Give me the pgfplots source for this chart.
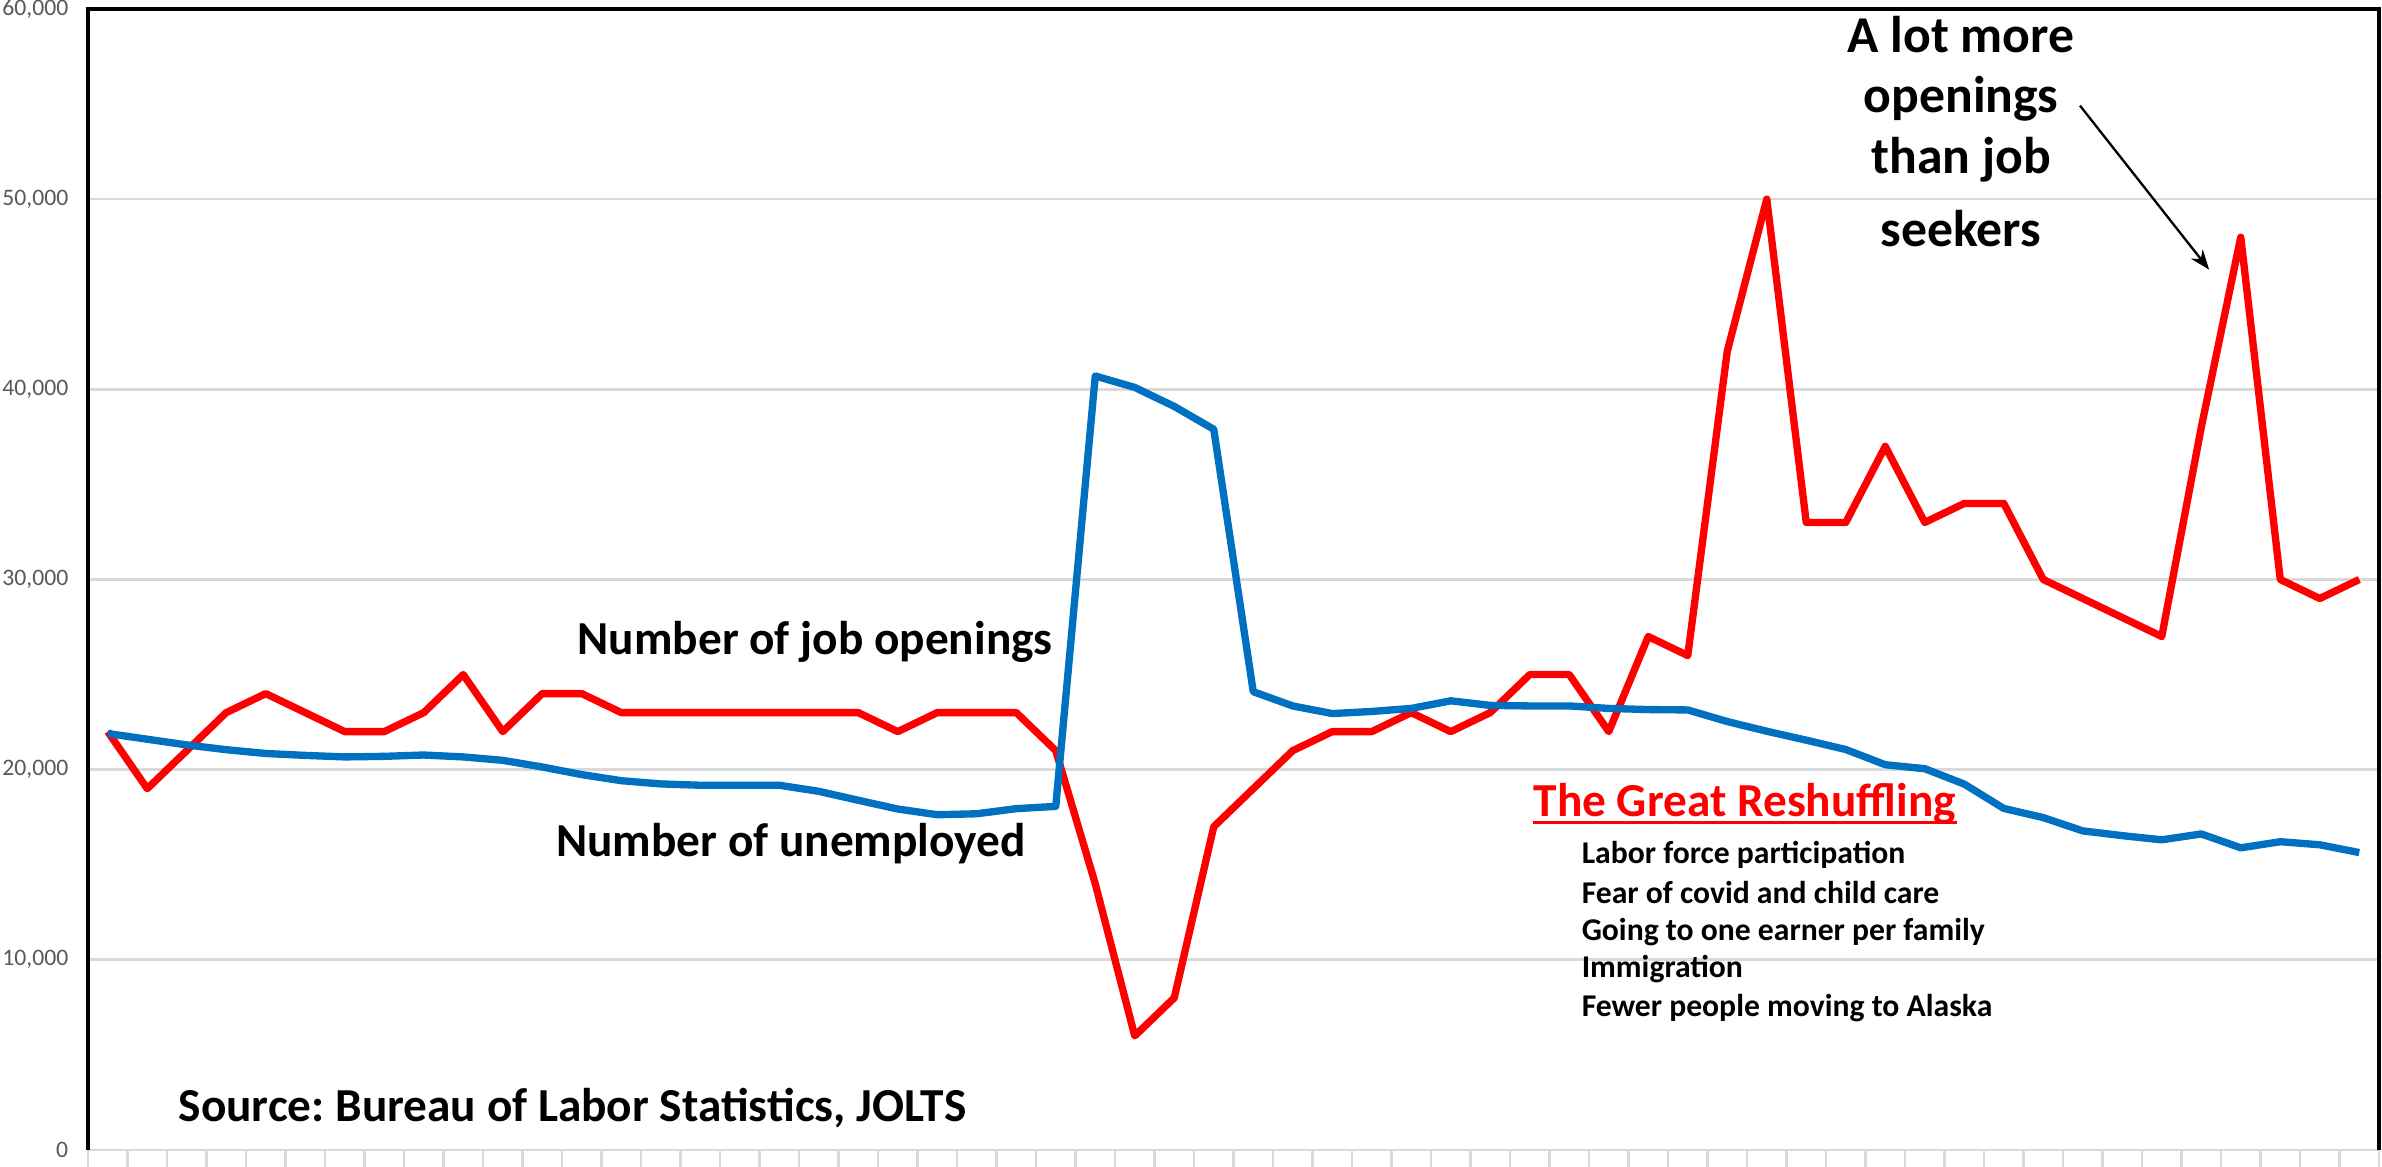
\documentclass[border=0pt]{standalone}
\usepackage{pgfplots}
\pgfplotsset{compat=1.18}
\usepackage{fontspec}
\setmainfont{Carlito}
\usetikzlibrary{arrows.meta}
\definecolor{openred}{HTML}{FF0000}
\definecolor{unempblue}{HTML}{0070C0}
\definecolor{gridgray}{HTML}{D9D9D9}
\definecolor{tickgray}{HTML}{595959}
\frenchspacing
\begin{document}
\begin{tikzpicture}
\begin{axis}[
  scale only axis,
  width=687.3pt, height=342.3pt,
  xmin=-0.5, xmax=57.5,
  ymin=0, ymax=60000,
  clip=false,
  axis line style={draw=none},
  xtick={-0.5,0.5,...,57.5},
  xticklabels={},
  xtick pos=bottom,
  ytick pos=left,
  tick align=outside,
  major tick length=5pt,
  x tick style={gridgray, line width=0.8pt},
  ytick={0,10000,...,60000},
  y tick style={draw=none},
  ymajorgrids,
  grid style={gridgray, line width=0.8pt},
  scaled y ticks=false,
  yticklabel style={font=\fontsize{7.1}{8}\selectfont, text=tickgray, xshift=2.6pt,
    /pgf/number format/.cd, fixed, 1000 sep={,}, assume math mode=true},
]
\draw[gridgray, line width=0.8pt] (rel axis cs:0,0) -- (rel axis cs:1,0);
\addplot[openred, line width=2.2pt, line join=round] coordinates {
(0,22000) (1,19000) (2,21000) (3,23000) (4,24000) (5,23000) (6,22000) (7,22000)
(8,23000) (9,25000) (10,22000) (11,24000) (12,24000) (13,23000) (14,23000) (15,23000)
(16,23000) (17,23000) (18,23000) (19,23000) (20,22000) (21,23000) (22,23000) (23,23000)
(24,21000) (25,14000) (26,6000) (27,8000) (28,17000) (29,19000) (30,21000) (31,22000)
(32,22000) (33,23000) (34,22000) (35,23000) (36,25000) (37,25000) (38,22000) (39,27000)
(40,26000) (41,42000) (42,50000) (43,33000) (44,33000) (45,37000) (46,33000) (47,34000)
(48,34000) (49,30000) (50,29000) (51,28000) (52,27000) (53,38000) (54,48000) (55,30000)
(56,29000) (57,30000)
};
\addplot[unempblue, line width=2.2pt, line join=round] coordinates {
(0,21900) (1,21600) (2,21300) (3,21050) (4,20850) (5,20750) (6,20670) (7,20700)
(8,20770) (9,20670) (10,20490) (11,20140) (12,19740) (13,19420) (14,19250) (15,19180)
(16,19180) (17,19180) (18,18860) (19,18390) (20,17930) (21,17630) (22,17680) (23,17950)
(24,18070) (25,40700) (26,40100) (27,39100) (28,37900) (29,24100) (30,23350) (31,22950)
(32,23060) (33,23220) (34,23620) (35,23380) (36,23350) (37,23350) (38,23220) (39,23160)
(40,23140) (41,22530) (42,22020) (43,21550) (44,21060) (45,20260) (46,20050) (47,19240)
(48,17960) (49,17480) (50,16780) (51,16530) (52,16310) (53,16620) (54,15890) (55,16210)
(56,16050) (57,15640)
};
\draw[black, line width=1pt] (rel axis cs:0,0) -- (rel axis cs:0,1) -- (rel axis cs:1,1) -- (rel axis cs:1,0);
% annotations
\node[anchor=base west, inner sep=0, font=\fontsize{14.2}{17}\selectfont\bfseries] at (axis cs:11.88,26040) {Number of job openings};
\node[anchor=base west, inner sep=0, font=\fontsize{14.2}{17}\selectfont\bfseries] at (axis cs:11.34,15413) {Number of unemployed};
\node[anchor=base west, inner sep=0, font=\fontsize{14.2}{17}\selectfont\bfseries] at (axis cs:1.78,1489) {Source: Bureau of Labor Statistics, JOLTS};
\node[anchor=base, inner sep=0, font=\fontsize{15.5}{18}\selectfont\bfseries] at (axis cs:46.92,57706) {A lot more};
\node[anchor=base, inner sep=0, font=\fontsize{15.5}{18}\selectfont\bfseries] at (axis cs:46.92,54550) {openings};
\node[anchor=base, inner sep=0, font=\fontsize{15.5}{18}\selectfont\bfseries] at (axis cs:46.92,51341) {than job};
\node[anchor=base, inner sep=0, font=\fontsize{15.5}{18}\selectfont\bfseries] at (axis cs:46.92,47522) {seekers};
\draw[-{Stealth[length=6pt,width=4.5pt]}, line width=0.7pt] (axis cs:49.93,54918) -- (axis cs:53.2,46292);
\node (gr) [anchor=base west, inner sep=0, text=openred, font=\fontsize{14.2}{17}\selectfont\bfseries] at (axis cs:36.08,17517) {The Great Reshuffling};
\draw[openred, line width=1pt] ([yshift=-1.6pt]gr.base west) -- ([yshift=-1.6pt]gr.base east);
\node[anchor=base west, inner sep=0, font=\fontsize{9.5}{11}\selectfont\bfseries] at (axis cs:37.30,15045) {Labor force participation};
\node[anchor=base west, inner sep=0, font=\fontsize{9.5}{11}\selectfont\bfseries] at (axis cs:37.30,12941) {Fear of covid and child care};
\node[anchor=base west, inner sep=0, font=\fontsize{9.5}{11}\selectfont\bfseries] at (axis cs:37.30,10994) {Going to one earner per family};
\node[anchor=base west, inner sep=0, font=\fontsize{9.5}{11}\selectfont\bfseries] at (axis cs:37.30,9048) {Immigration};
\node[anchor=base west, inner sep=0, font=\fontsize{9.5}{11}\selectfont\bfseries] at (axis cs:37.30,6996) {Fewer people moving to Alaska};
\end{axis}
\pgfresetboundingbox
\path[use as bounding box] (-26.4pt,-5.1pt) rectangle (688.2pt,345pt);
\end{tikzpicture}
\end{document}
